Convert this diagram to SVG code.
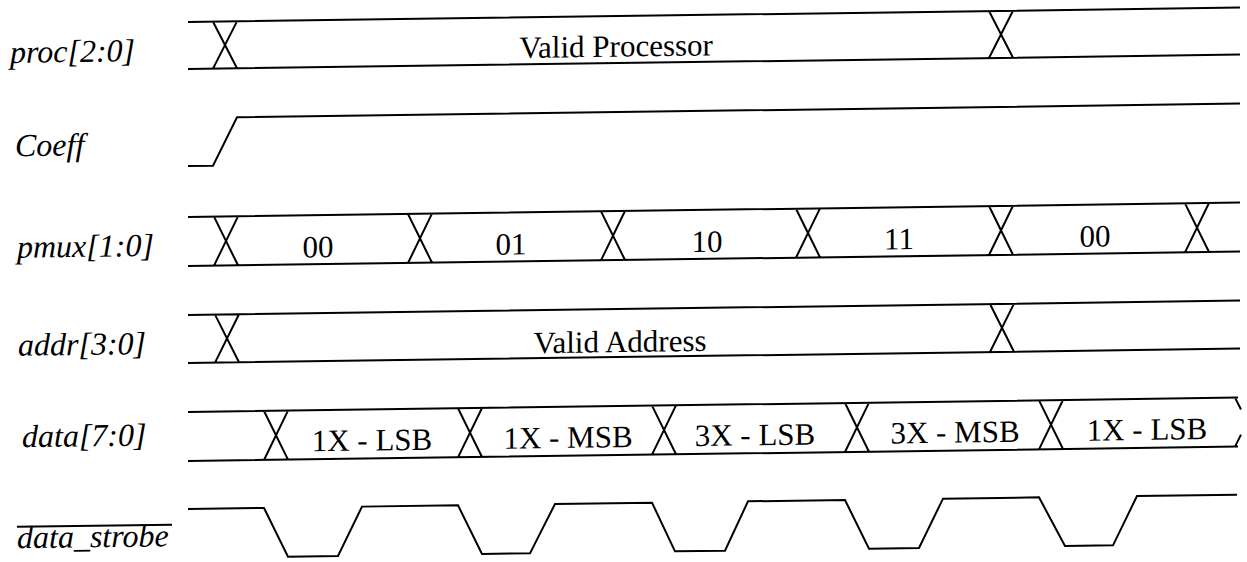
<svg xmlns="http://www.w3.org/2000/svg" width="1247" height="562" viewBox="0 0 1247 562">
<style>
.w{fill:none;stroke:#000;stroke-width:2;stroke-linejoin:miter}
.lbl{font-family:"Liberation Serif","Times New Roman",serif;font-style:italic;font-size:32px;fill:#000}
.val{font-family:"Liberation Serif","Times New Roman",serif;font-size:31px;fill:#000;text-anchor:middle}
</style>
<rect width="1247" height="562" fill="#fff"/>
<g transform="matrix(1,-0.0137,0,1,0,2.58)">
<g id="proc">
<text class="lbl" x="10" y="60.5">proc[2:0]</text>
<path class="w" d="M188,22 H1240 M188,69 H1240 M213,22 L237,69 M237,22 L213,69 M989,22 L1013,69 M1013,22 L989,69"/>
<text class="val" x="616" y="62.5">Valid Processor</text>
</g>
<g id="coeff">
<text class="lbl" x="15" y="154">Coeff</text>
<path class="w" d="M188,166 H213 L237,118 H1240"/>
</g>
<g id="pmux">
<text class="lbl" x="17" y="255.5">pmux[1:0]</text>
<path class="w" d="M188,217 H1240 M188,266 H1240 M214,217 L238,266 M238,217 L214,266 M408,217 L432,266 M432,217 L408,266 M601,217 L625,266 M625,217 L601,266 M796,217 L820,266 M820,217 L796,266 M989,217 L1013,266 M1013,217 L989,266 M1185,217 L1209,266 M1209,217 L1185,266"/>
<text class="val" x="318" y="259">00</text>
<text class="val" x="511" y="259">01</text>
<text class="val" x="707" y="259">10</text>
<text class="val" x="899" y="259">11</text>
<text class="val" x="1095" y="259">00</text>
</g>
<g id="addr">
<text class="lbl" x="18" y="353.5">addr[3:0]</text>
<path class="w" d="M188,315 H1240 M188,363 H1240 M215,315 L239,363 M239,315 L215,363 M990,315 L1014,363 M1014,315 L990,363"/>
<text class="val" x="620" y="358">Valid Address</text>
</g>
<g id="data">
<text class="lbl" x="22" y="445">data[7:0]</text>
<path class="w" d="M188,412 H1238 M188,461 H1238 M264,412 L288,461 M288,412 L264,461 M458,412 L482,461 M482,412 L458,461 M652,412 L676,461 M676,412 L652,461 M845,412 L869,461 M869,412 L845,461 M1039,412 L1063,461 M1063,412 L1039,461 M1235,412 L1241,424 M1241,449 L1235,461"/>
<text class="val" x="372" y="453">1X - LSB</text>
<text class="val" x="568" y="453">1X - MSB</text>
<text class="val" x="755" y="453">3X - LSB</text>
<text class="val" x="955" y="453">3X - MSB</text>
<text class="val" x="1147" y="453">1X - LSB</text>
</g>
<g id="data_strobe">
<text class="lbl" x="17" y="546">data_strobe</text>
<line class="w" x1="17" y1="524.5" x2="172" y2="524.5"/>
<path class="w" d="M188,509 H264 L288,558 H338 L362,509 H458 L482,558 H530 L555,509 H652 L675,558 H725 L748,509 H845 L869,558 H919 L943,509 H1039 L1065,558 H1113 L1137,509 H1237"/>
</g>
<g id="connectors"/>
</g>
</svg>
